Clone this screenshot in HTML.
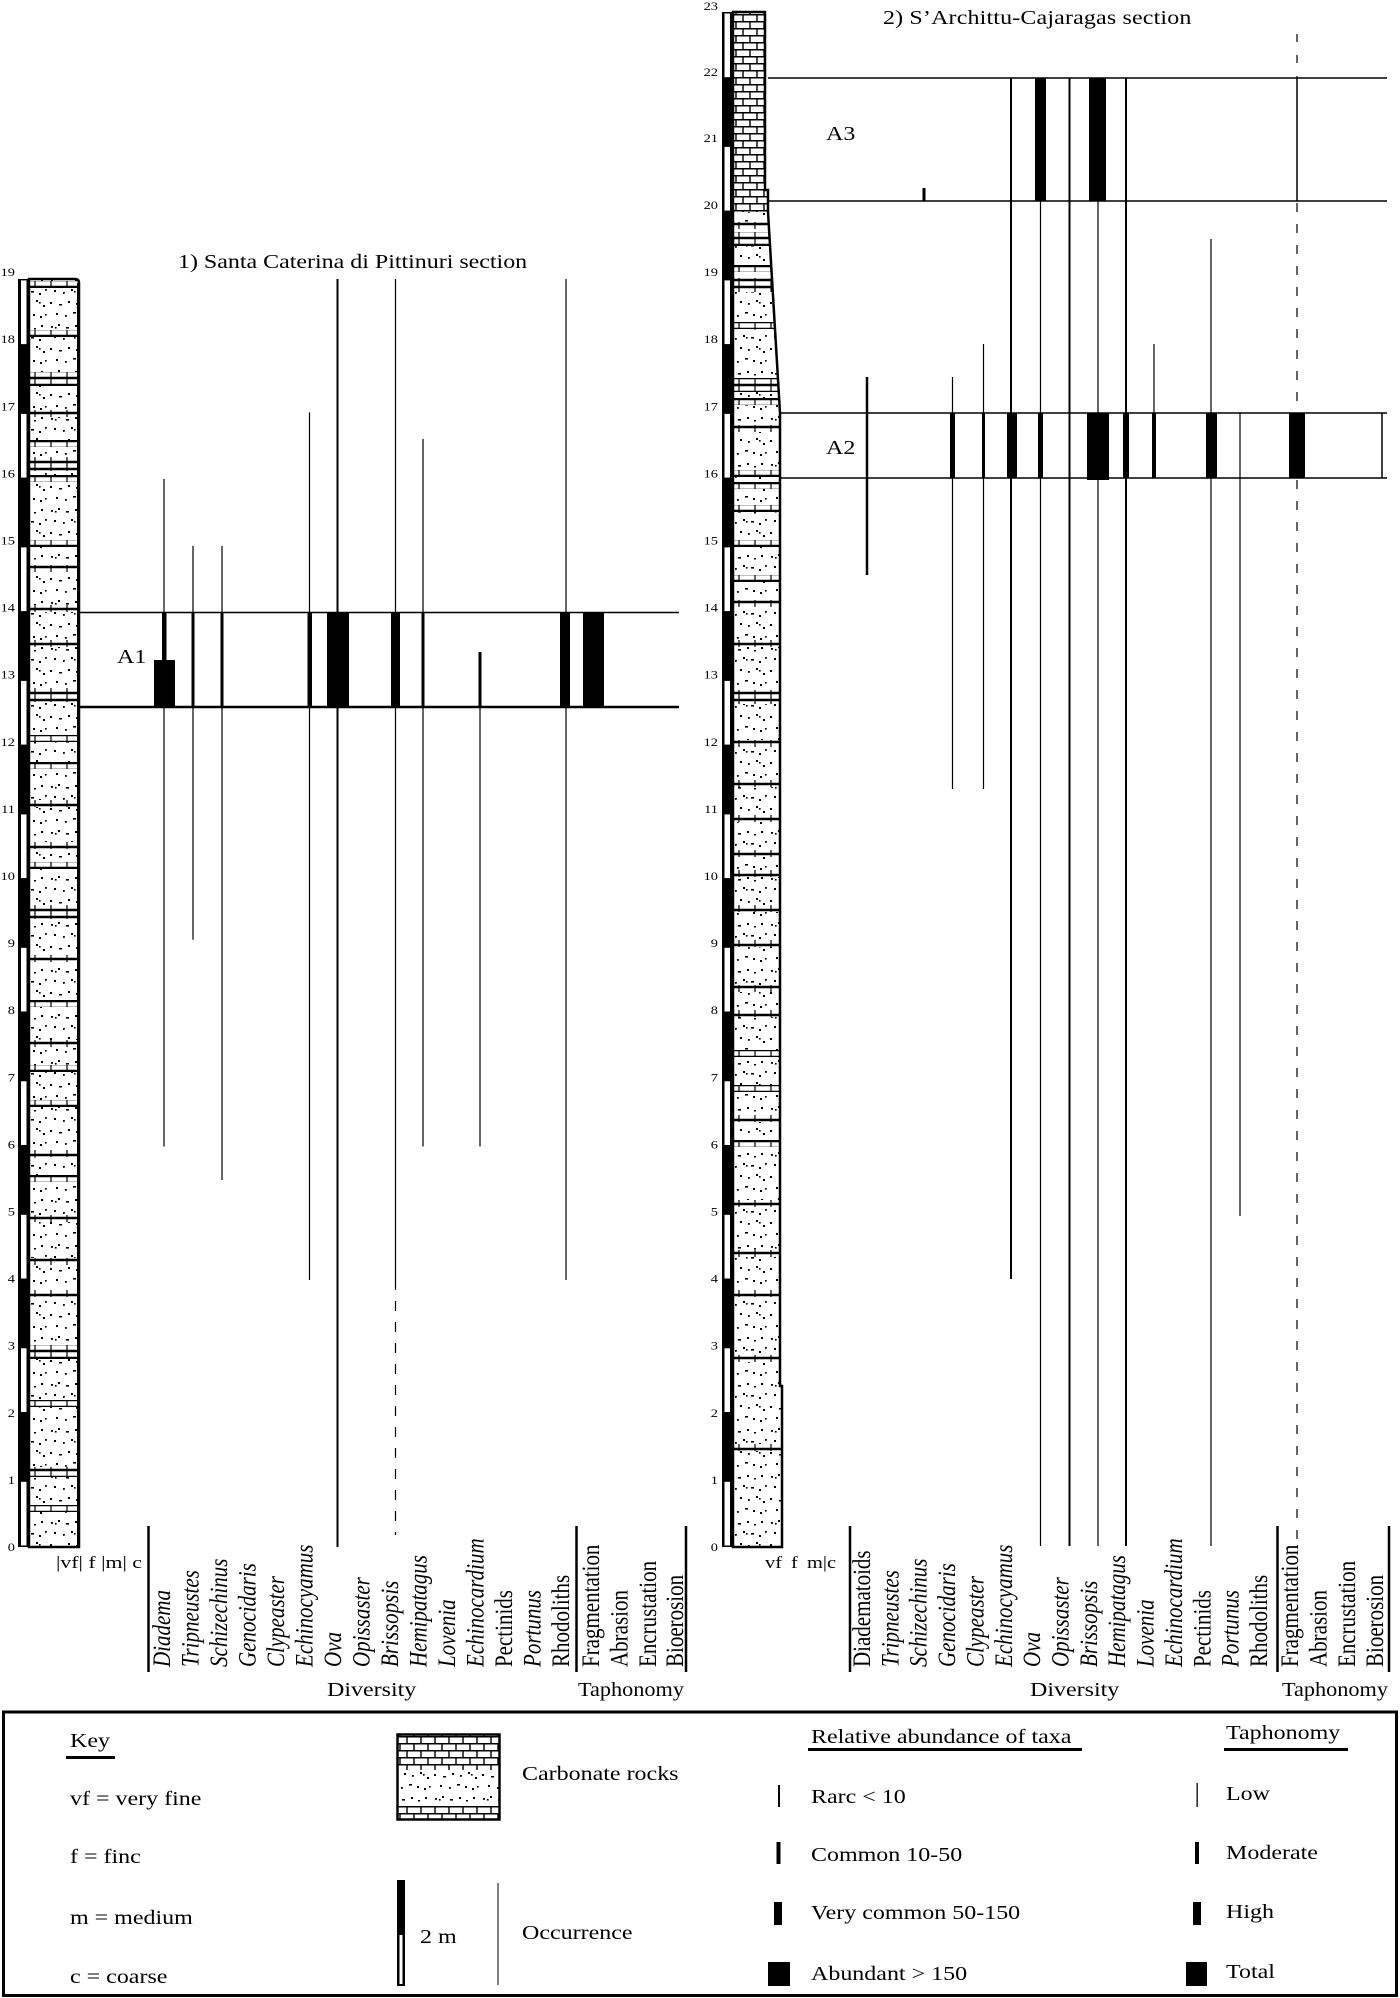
<!DOCTYPE html>
<html>
<head>
<meta charset="utf-8">
<style>
html,body{margin:0;padding:0;background:#fff;}
svg{display:block;}
text{font-family:"Liberation Serif","DejaVu Serif",serif;fill:#000;}
</style>
</head>
<body>
<svg xmlns="http://www.w3.org/2000/svg" width="1400" height="1998" viewBox="0 0 1400 1998">
<defs>
<pattern id="dt" width="48" height="46" patternUnits="userSpaceOnUse">
<rect width="48" height="46" fill="#fff"/>
<g fill="#000">
<rect x="3" y="4" width="2" height="1.8"/><rect x="7" y="5" width="1.6" height="1.6"/><rect x="10" y="2" width="2" height="2"/><rect x="18" y="5" width="3" height="1.6"/><rect x="27" y="3" width="2" height="2"/><rect x="34" y="6" width="2" height="1.5"/><rect x="41" y="3" width="2" height="2"/>
<rect x="6" y="14" width="2" height="2"/><rect x="15" y="16" width="1.8" height="1.8"/><rect x="23" y="13" width="2" height="2"/><rect x="26" y="15" width="1.6" height="1.6"/><rect x="31" y="15" width="3" height="1.6"/><rect x="39" y="17" width="2" height="2"/><rect x="45" y="13" width="1.8" height="1.8"/>
<rect x="2" y="26" width="2" height="2"/><rect x="11" y="28" width="3" height="1.5"/><rect x="20" y="25" width="2" height="2"/><rect x="28" y="27" width="1.8" height="1.8"/><rect x="36" y="24" width="2" height="2"/><rect x="39" y="26" width="1.6" height="1.6"/><rect x="43" y="29" width="2" height="2"/>
<rect x="8" y="37" width="2" height="2"/><rect x="17" y="39" width="1.8" height="1.8"/><rect x="25" y="36" width="3" height="1.6"/><rect x="33" y="38" width="2" height="2"/><rect x="40" y="40" width="2" height="2"/><rect x="45" y="38" width="1.6" height="1.6"/>
</g>
</pattern>
<pattern id="br" width="16" height="7" patternUnits="userSpaceOnUse">
<rect width="16" height="7" fill="#fff"/>
<path d="M0 .6H16M0 6.4H16M3 0V7" stroke="#000" stroke-width="1.2" fill="none"/>
</pattern>
<pattern id="bf" width="28" height="14" patternUnits="userSpaceOnUse">
<rect width="28" height="14" fill="#fff"/>
<path d="M0 .75H28M0 7.75H28M1 0V7M15 0V7M8 7V14M22 7V14" stroke="#000" stroke-width="1.4" fill="none"/>
</pattern>
<clipPath id="lc"><path d="M29,279 H75 Q79,279 79,283 V1547 H29 Z"/></clipPath>
<clipPath id="rc"><path d="M733,12 H765 V190 H768 V212 L780,413 V1386 H782 V1547 H733 Z"/></clipPath>
</defs>

<rect width="1400" height="1998" fill="#fff"/>

<!-- ===== LEFT SECTION ===== -->
<text transform="translate(178,268) scale(1.2,1)" font-size="20" textLength="291">1) Santa Caterina di Pittinuri section</text>

<rect x="18" y="279" width="11" height="1268" fill="#000"/>
<g fill="#fff">
<rect x="21" y="1481.8" width="5.5" height="63.7"/><rect x="21" y="1348.3" width="5.5" height="63.7"/><rect x="21" y="1214.8" width="5.5" height="63.7"/><rect x="21" y="1081.3" width="5.5" height="63.7"/><rect x="21" y="947.8" width="5.5" height="63.7"/><rect x="21" y="814.4" width="5.5" height="63.7"/><rect x="21" y="680.9" width="5.5" height="63.7"/><rect x="21" y="547.4" width="5.5" height="63.7"/><rect x="21" y="413.9" width="5.5" height="63.7"/><rect x="21" y="280.4" width="5.5" height="63.7"/>
</g>

<g clip-path="url(#lc)">
<rect x="28" y="279" width="52" height="1268" fill="url(#dt)"/>
<g fill="url(#br)">
<rect x="28" y="281" width="52" height="7"/><rect x="28" y="330" width="52" height="7"/><rect x="28" y="372" width="52" height="14"/><rect x="28" y="410" width="52" height="7"/><rect x="28" y="440" width="52" height="7"/><rect x="28" y="457" width="52" height="14"/><rect x="28" y="475" width="52" height="7"/><rect x="28" y="540" width="52" height="7"/><rect x="28" y="565" width="52" height="7"/><rect x="28" y="605" width="52" height="7"/><rect x="28" y="640" width="52" height="7"/><rect x="28" y="688" width="52" height="14"/><rect x="28" y="735" width="52" height="7"/><rect x="28" y="762" width="52" height="7"/><rect x="28" y="800" width="52" height="7"/><rect x="28" y="842" width="52" height="7"/><rect x="28" y="862" width="52" height="7"/><rect x="28" y="905" width="52" height="14"/><rect x="28" y="955" width="52" height="7"/><rect x="28" y="1000" width="52" height="7"/><rect x="28" y="1040" width="52" height="7"/><rect x="28" y="1065" width="52" height="7"/><rect x="28" y="1100" width="52" height="7"/><rect x="28" y="1150" width="52" height="7"/><rect x="28" y="1175" width="52" height="7"/><rect x="28" y="1215" width="52" height="7"/><rect x="28" y="1258" width="52" height="7"/><rect x="28" y="1290" width="52" height="7"/><rect x="28" y="1345" width="52" height="14"/><rect x="28" y="1400" width="52" height="7"/><rect x="28" y="1467" width="52" height="10"/><rect x="28" y="1505" width="52" height="7"/>
</g>
</g>
<path d="M29,1547 V279 H75 Q79,279 79,283 V1547 Z" fill="none" stroke="#000" stroke-width="2.5"/>
<line x1="78.5" y1="283" x2="78.5" y2="1548" stroke="#000" stroke-width="3"/>

<g font-size="12" text-anchor="end">
<text transform="translate(15,1551) scale(1.2,1)">0</text>
<text transform="translate(15,1483.9) scale(1.2,1)">1</text>
<text transform="translate(15,1416.8) scale(1.2,1)">2</text>
<text transform="translate(15,1349.7) scale(1.2,1)">3</text>
<text transform="translate(15,1282.6) scale(1.2,1)">4</text>
<text transform="translate(15,1215.5) scale(1.2,1)">5</text>
<text transform="translate(15,1148.4) scale(1.2,1)">6</text>
<text transform="translate(15,1081.3) scale(1.2,1)">7</text>
<text transform="translate(15,1014.2) scale(1.2,1)">8</text>
<text transform="translate(15,947.1) scale(1.2,1)">9</text>
<text transform="translate(15,880) scale(1.2,1)">10</text>
<text transform="translate(15,812.9) scale(1.2,1)">11</text>
<text transform="translate(15,745.8) scale(1.2,1)">12</text>
<text transform="translate(15,678.7) scale(1.2,1)">13</text>
<text transform="translate(15,611.6) scale(1.2,1)">14</text>
<text transform="translate(15,544.5) scale(1.2,1)">15</text>
<text transform="translate(15,477.4) scale(1.2,1)">16</text>
<text transform="translate(15,410.3) scale(1.2,1)">17</text>
<text transform="translate(15,343.2) scale(1.2,1)">18</text>
<text transform="translate(15,276.1) scale(1.2,1)">19</text>
</g>

<text x="56" y="1568" font-size="17" textLength="86" lengthAdjust="spacingAndGlyphs">|vf| f |m| c</text>

<line x1="80" y1="612.5" x2="679" y2="612.5" stroke="#000" stroke-width="1.5"/>
<line x1="80" y1="707" x2="679" y2="707" stroke="#000" stroke-width="2.5"/>
<text transform="translate(117,663) scale(1.2,1)" font-size="20">A1</text>

<g stroke="#000" fill="none">
<line x1="164" y1="479" x2="164" y2="612.5" stroke-width="1.2"/>
<line x1="164" y1="707" x2="164" y2="1146.5" stroke-width="1.2"/>
<line x1="193" y1="545.9" x2="193" y2="939.7" stroke-width="1.2"/>
<line x1="222" y1="545.9" x2="222" y2="1180" stroke-width="1.2"/>
<line x1="309.5" y1="412.4" x2="309.5" y2="1280" stroke-width="1.2"/>
<line x1="337.5" y1="279" x2="337.5" y2="1547" stroke-width="2"/>
<line x1="395.5" y1="279" x2="395.5" y2="1280" stroke-width="1.2"/>
<line x1="395.5" y1="1280" x2="395.5" y2="1535" stroke-width="1.2" stroke-dasharray="10 11"/>
<line x1="423" y1="439" x2="423" y2="1146.5" stroke-width="1.2"/>
<line x1="480" y1="707" x2="480" y2="1146.5" stroke-width="1.2"/>
<line x1="566" y1="279" x2="566" y2="1280" stroke-width="1.2"/>
</g>
<g fill="#000">
<rect x="162" y="612.5" width="4.5" height="48"/>
<rect x="154" y="660" width="21" height="47.5"/>
<rect x="191.5" y="612.5" width="3" height="95"/>
<rect x="220.5" y="612.5" width="3" height="95"/>
<rect x="307.5" y="612.5" width="4.5" height="95"/>
<rect x="327" y="612.5" width="22" height="95"/>
<rect x="391" y="612.5" width="9" height="95"/>
<rect x="421.5" y="612.5" width="3" height="95"/>
<rect x="478.5" y="652" width="3" height="56"/>
<rect x="560" y="612.5" width="10" height="95"/>
<rect x="583" y="612.5" width="21" height="95"/>
</g>

<g stroke="#000" stroke-width="2.5">
<line x1="148.5" y1="1526" x2="148.5" y2="1672"/>
<line x1="576.5" y1="1526" x2="576.5" y2="1672"/>
<line x1="686" y1="1526" x2="686" y2="1672"/>
</g>

<g font-size="21">
<text transform="translate(170,1667) scale(1.2,1) rotate(-90)" font-style="italic">Diadema</text>
<text transform="translate(198.5,1667) scale(1.2,1) rotate(-90)" font-style="italic">Tripneustes</text>
<text transform="translate(227,1667) scale(1.2,1) rotate(-90)" font-style="italic">Schizechinus</text>
<text transform="translate(255.5,1667) scale(1.2,1) rotate(-90)" font-style="italic">Genocidaris</text>
<text transform="translate(284,1667) scale(1.2,1) rotate(-90)" font-style="italic">Clypeaster</text>
<text transform="translate(312.5,1667) scale(1.2,1) rotate(-90)" font-style="italic">Echinocyamus</text>
<text transform="translate(341,1667) scale(1.2,1) rotate(-90)" font-style="italic">Ova</text>
<text transform="translate(369.5,1667) scale(1.2,1) rotate(-90)" font-style="italic">Opissaster</text>
<text transform="translate(398,1667) scale(1.2,1) rotate(-90)" font-style="italic">Brissopsis</text>
<text transform="translate(426.5,1667) scale(1.2,1) rotate(-90)" font-style="italic">Hemipatagus</text>
<text transform="translate(455,1667) scale(1.2,1) rotate(-90)" font-style="italic">Lovenia</text>
<text transform="translate(483.5,1667) scale(1.2,1) rotate(-90)" font-style="italic">Echinocardium</text>
<text transform="translate(512,1667) scale(1.2,1) rotate(-90)">Pectinids</text>
<text transform="translate(540.5,1667) scale(1.2,1) rotate(-90)" font-style="italic">Portunus</text>
<text transform="translate(569,1667) scale(1.2,1) rotate(-90)">Rhodoliths</text>
<text transform="translate(599,1667) scale(1.2,1) rotate(-90)">Fragmentation</text>
<text transform="translate(627.5,1667) scale(1.2,1) rotate(-90)">Abrasion</text>
<text transform="translate(656,1667) scale(1.2,1) rotate(-90)">Encrustation</text>
<text transform="translate(683,1667) scale(1.2,1) rotate(-90)">Bioerosion</text>
</g>
<text transform="translate(327,1696) scale(1.2,1)" font-size="20">Diversity</text>
<text x="578" y="1696" font-size="20" textLength="106" lengthAdjust="spacingAndGlyphs">Taphonomy</text>

<!-- ===== RIGHT SECTION ===== -->
<text transform="translate(883,24) scale(1.2,1)" font-size="20" textLength="257">2) S’Archittu-Cajaragas section</text>

<rect x="722" y="12" width="11" height="1535" fill="#000"/>
<g fill="#fff">
<rect x="724.5" y="1481.8" width="5.5" height="63.7"/><rect x="724.5" y="1348.3" width="5.5" height="63.7"/><rect x="724.5" y="1214.8" width="5.5" height="63.7"/><rect x="724.5" y="1081.3" width="5.5" height="63.7"/><rect x="724.5" y="947.8" width="5.5" height="63.7"/><rect x="724.5" y="814.4" width="5.5" height="63.7"/><rect x="724.5" y="680.9" width="5.5" height="63.7"/><rect x="724.5" y="547.4" width="5.5" height="63.7"/><rect x="724.5" y="413.9" width="5.5" height="63.7"/><rect x="724.5" y="280.4" width="5.5" height="63.7"/><rect x="724.5" y="146.9" width="5.5" height="63.7"/><rect x="724.5" y="13.5" width="5.5" height="63.7"/>
</g>

<g clip-path="url(#rc)">
<rect x="733" y="12" width="52" height="1535" fill="url(#dt)"/>
<rect x="733" y="12" width="52" height="200" fill="url(#bf)"/>
<g fill="url(#br)">
<rect x="733" y="222" width="52" height="7"/><rect x="733" y="232" width="52" height="14"/><rect x="733" y="265" width="52" height="7"/><rect x="733" y="278" width="52" height="14"/><rect x="733" y="322" width="52" height="7"/><rect x="733" y="378" width="52" height="14"/><rect x="733" y="398" width="52" height="7"/><rect x="733" y="425" width="52" height="7"/><rect x="733" y="470" width="52" height="7"/><rect x="733" y="482" width="52" height="7"/><rect x="733" y="505" width="52" height="7"/><rect x="733" y="540" width="52" height="7"/><rect x="733" y="575" width="52" height="7"/><rect x="733" y="600" width="52" height="7"/><rect x="733" y="640" width="52" height="7"/><rect x="733" y="690" width="52" height="14"/><rect x="733" y="740" width="52" height="7"/><rect x="733" y="780" width="52" height="7"/><rect x="733" y="815" width="52" height="7"/><rect x="733" y="850" width="52" height="7"/><rect x="733" y="870" width="52" height="7"/><rect x="733" y="905" width="52" height="7"/><rect x="733" y="940" width="52" height="7"/><rect x="733" y="985" width="52" height="7"/><rect x="733" y="1010" width="52" height="7"/><rect x="733" y="1050" width="52" height="7"/><rect x="733" y="1085" width="52" height="7"/><rect x="733" y="1115" width="52" height="7"/><rect x="733" y="1140" width="52" height="7"/><rect x="733" y="1200" width="52" height="7"/><rect x="733" y="1250" width="52" height="7"/><rect x="733" y="1290" width="52" height="7"/><rect x="733" y="1355" width="52" height="7"/><rect x="733" y="1444" width="52" height="7"/>
</g>
</g>
<path d="M733,12 H765 V190 H768 V212 L780,413 V1386 H782 V1547 H733 Z" fill="none" stroke="#000" stroke-width="2.5"/>

<g font-size="12" text-anchor="end">
<text transform="translate(718,1551) scale(1.2,1)">0</text>
<text transform="translate(718,1483.9) scale(1.2,1)">1</text>
<text transform="translate(718,1416.8) scale(1.2,1)">2</text>
<text transform="translate(718,1349.7) scale(1.2,1)">3</text>
<text transform="translate(718,1282.6) scale(1.2,1)">4</text>
<text transform="translate(718,1215.5) scale(1.2,1)">5</text>
<text transform="translate(718,1148.4) scale(1.2,1)">6</text>
<text transform="translate(718,1081.3) scale(1.2,1)">7</text>
<text transform="translate(718,1014.2) scale(1.2,1)">8</text>
<text transform="translate(718,947.1) scale(1.2,1)">9</text>
<text transform="translate(718,880) scale(1.2,1)">10</text>
<text transform="translate(718,812.9) scale(1.2,1)">11</text>
<text transform="translate(718,745.8) scale(1.2,1)">12</text>
<text transform="translate(718,678.7) scale(1.2,1)">13</text>
<text transform="translate(718,611.6) scale(1.2,1)">14</text>
<text transform="translate(718,544.5) scale(1.2,1)">15</text>
<text transform="translate(718,477.4) scale(1.2,1)">16</text>
<text transform="translate(718,410.3) scale(1.2,1)">17</text>
<text transform="translate(718,343.2) scale(1.2,1)">18</text>
<text transform="translate(718,276.1) scale(1.2,1)">19</text>
<text transform="translate(718,209) scale(1.2,1)">20</text>
<text transform="translate(718,141.9) scale(1.2,1)">21</text>
<text transform="translate(718,76) scale(1.2,1)">22</text>
<text transform="translate(718,10) scale(1.2,1)">23</text>
</g>

<g font-size="17">
<text transform="translate(765,1568) scale(1.2,1)">vf</text>
<text transform="translate(791,1568) scale(1.2,1)">f</text>
<text transform="translate(807,1568) scale(1.2,1)">m|c</text>
</g>

<g stroke="#000" stroke-width="1.5">
<line x1="768" y1="78" x2="1387" y2="78"/>
<line x1="768" y1="201" x2="1387" y2="201"/>
<line x1="780" y1="413" x2="1387" y2="413"/>
<line x1="780" y1="478" x2="1387" y2="478"/>
<line x1="1382" y1="413" x2="1382" y2="478"/>
</g>
<text transform="translate(826,140) scale(1.2,1)" font-size="20">A3</text>
<text transform="translate(826,454) scale(1.2,1)" font-size="20">A2</text>

<g stroke="#000" fill="none">
<line x1="867" y1="377" x2="867" y2="575" stroke-width="2.5"/>
<line x1="952.5" y1="377" x2="952.5" y2="789" stroke-width="1.2"/>
<line x1="983.5" y1="344" x2="983.5" y2="789" stroke-width="1.2"/>
<line x1="1011" y1="78" x2="1011" y2="1279" stroke-width="2"/>
<line x1="1040.5" y1="78" x2="1040.5" y2="1546" stroke-width="1.2"/>
<line x1="1069.5" y1="78" x2="1069.5" y2="1546" stroke-width="2"/>
<line x1="1098" y1="78" x2="1098" y2="1546" stroke-width="1.2"/>
<line x1="1126" y1="78" x2="1126" y2="1546" stroke-width="2"/>
<line x1="1154" y1="344" x2="1154" y2="478" stroke-width="1.2"/>
<line x1="1211" y1="239" x2="1211" y2="1546" stroke-width="1.2"/>
<line x1="1240" y1="413" x2="1240" y2="1216" stroke-width="1.2"/>
<line x1="1297" y1="34" x2="1297" y2="78" stroke-width="1.2" stroke-dasharray="8 13"/>
<line x1="1297" y1="78" x2="1297" y2="201" stroke-width="1.5"/>
<line x1="1297" y1="203" x2="1297" y2="413" stroke-width="1.2" stroke-dasharray="9 12"/>
<line x1="1297" y1="480" x2="1297" y2="1543" stroke-width="1.2" stroke-dasharray="9 12"/>
</g>
<g fill="#000">
<rect x="922.5" y="188" width="3" height="13"/>
<rect x="950" y="413" width="5" height="65"/>
<rect x="982" y="413" width="3" height="65"/>
<rect x="1007" y="413" width="10" height="65"/>
<rect x="1035" y="78" width="11" height="123"/>
<rect x="1038" y="413" width="5" height="65"/>
<rect x="1089" y="78" width="17" height="123"/>
<rect x="1087" y="413" width="22" height="67"/>
<rect x="1123" y="413" width="6" height="65"/>
<rect x="1152" y="413" width="4" height="65"/>
<rect x="1206" y="413" width="11" height="65"/>
<rect x="1289" y="413" width="16" height="65"/>
</g>

<g stroke="#000" stroke-width="2.5">
<line x1="850" y1="1526" x2="850" y2="1672"/>
<line x1="1277.5" y1="1526" x2="1277.5" y2="1672"/>
<line x1="1389" y1="1526" x2="1389" y2="1672"/>
</g>

<g font-size="21">
<text transform="translate(870,1667) scale(1.2,1) rotate(-90)">Diadematoids</text>
<text transform="translate(898.4,1667) scale(1.2,1) rotate(-90)" font-style="italic">Tripneustes</text>
<text transform="translate(926.7,1667) scale(1.2,1) rotate(-90)" font-style="italic">Schizechinus</text>
<text transform="translate(955,1667) scale(1.2,1) rotate(-90)" font-style="italic">Genocidaris</text>
<text transform="translate(983.4,1667) scale(1.2,1) rotate(-90)" font-style="italic">Clypeaster</text>
<text transform="translate(1011.8,1667) scale(1.2,1) rotate(-90)" font-style="italic">Echinocyamus</text>
<text transform="translate(1040.2,1667) scale(1.2,1) rotate(-90)" font-style="italic">Ova</text>
<text transform="translate(1068.5,1667) scale(1.2,1) rotate(-90)" font-style="italic">Opissaster</text>
<text transform="translate(1096.9,1667) scale(1.2,1) rotate(-90)" font-style="italic">Brissopsis</text>
<text transform="translate(1125.2,1667) scale(1.2,1) rotate(-90)" font-style="italic">Hemipatagus</text>
<text transform="translate(1153.6,1667) scale(1.2,1) rotate(-90)" font-style="italic">Lovenia</text>
<text transform="translate(1182,1667) scale(1.2,1) rotate(-90)" font-style="italic">Echinocardium</text>
<text transform="translate(1210.3,1667) scale(1.2,1) rotate(-90)">Pectinids</text>
<text transform="translate(1238.7,1667) scale(1.2,1) rotate(-90)" font-style="italic">Portunus</text>
<text transform="translate(1267,1667) scale(1.2,1) rotate(-90)">Rhodoliths</text>
<text transform="translate(1298,1667) scale(1.2,1) rotate(-90)">Fragmentation</text>
<text transform="translate(1326.5,1667) scale(1.2,1) rotate(-90)">Abrasion</text>
<text transform="translate(1355,1667) scale(1.2,1) rotate(-90)">Encrustation</text>
<text transform="translate(1383,1667) scale(1.2,1) rotate(-90)">Bioerosion</text>
</g>
<text transform="translate(1030,1696) scale(1.2,1)" font-size="20">Diversity</text>
<text x="1282" y="1696" font-size="20" textLength="106" lengthAdjust="spacingAndGlyphs">Taphonomy</text>

<!-- ===== KEY ===== -->
<rect x="3.5" y="1712" width="1393" height="283.5" fill="none" stroke="#000" stroke-width="3"/>

<g font-size="20">
<text transform="translate(70,1747) scale(1.2,1)">Key</text>
<text transform="translate(70,1805) scale(1.2,1)">vf = very fine</text>
<text transform="translate(70,1863) scale(1.2,1)">f = finc</text>
<text transform="translate(70,1924) scale(1.2,1)">m = medium</text>
<text transform="translate(70,1983) scale(1.2,1)">c = coarse</text>
<text transform="translate(522,1780) scale(1.2,1)">Carbonate rocks</text>
<text transform="translate(420,1943) scale(1.2,1)">2 m</text>
<text transform="translate(522,1939) scale(1.2,1)">Occurrence</text>
<text transform="translate(811,1743) scale(1.2,1)">Relative abundance of taxa</text>
<text transform="translate(811,1803) scale(1.2,1)">Rarc &lt; 10</text>
<text transform="translate(811,1861) scale(1.2,1)">Common 10-50</text>
<text transform="translate(811,1919) scale(1.2,1)">Very common 50-150</text>
<text transform="translate(811,1980) scale(1.2,1)">Abundant &gt; 150</text>
<text transform="translate(1226,1739) scale(1.2,1)">Taphonomy</text>
<text transform="translate(1226,1800) scale(1.2,1)">Low</text>
<text transform="translate(1226,1859) scale(1.2,1)">Moderate</text>
<text transform="translate(1226,1918) scale(1.2,1)">High</text>
<text transform="translate(1226,1978) scale(1.2,1)">Total</text>
</g>
<g fill="#000">
<rect x="66" y="1756" width="49" height="3"/>
<rect x="808" y="1748" width="274" height="3"/>
<rect x="1224" y="1748" width="124" height="3"/>
<rect x="778" y="1785" width="2" height="22"/>
<rect x="776.5" y="1842" width="4" height="22"/>
<rect x="774" y="1902" width="8" height="23"/>
<rect x="768" y="1962" width="22" height="24"/>
<rect x="1196.5" y="1783" width="1.3" height="24"/>
<rect x="1195" y="1842" width="4" height="22"/>
<rect x="1193" y="1902" width="8" height="23"/>
<rect x="1186" y="1962" width="21" height="24"/>
</g>

<rect x="398" y="1735" width="101" height="35" fill="url(#bf)"/>
<rect x="398" y="1770" width="101" height="36" fill="url(#dt)"/>
<rect x="398" y="1806" width="101" height="13" fill="url(#bf)"/>
<rect x="397.5" y="1734.5" width="102" height="85" fill="none" stroke="#000" stroke-width="2.5"/>

<rect x="397" y="1880" width="8" height="106" fill="#000"/>
<rect x="399.5" y="1935" width="3" height="49" fill="#fff"/>
<line x1="498" y1="1883" x2="498" y2="1985" stroke="#000" stroke-width="1"/>
</svg>
</body>
</html>
